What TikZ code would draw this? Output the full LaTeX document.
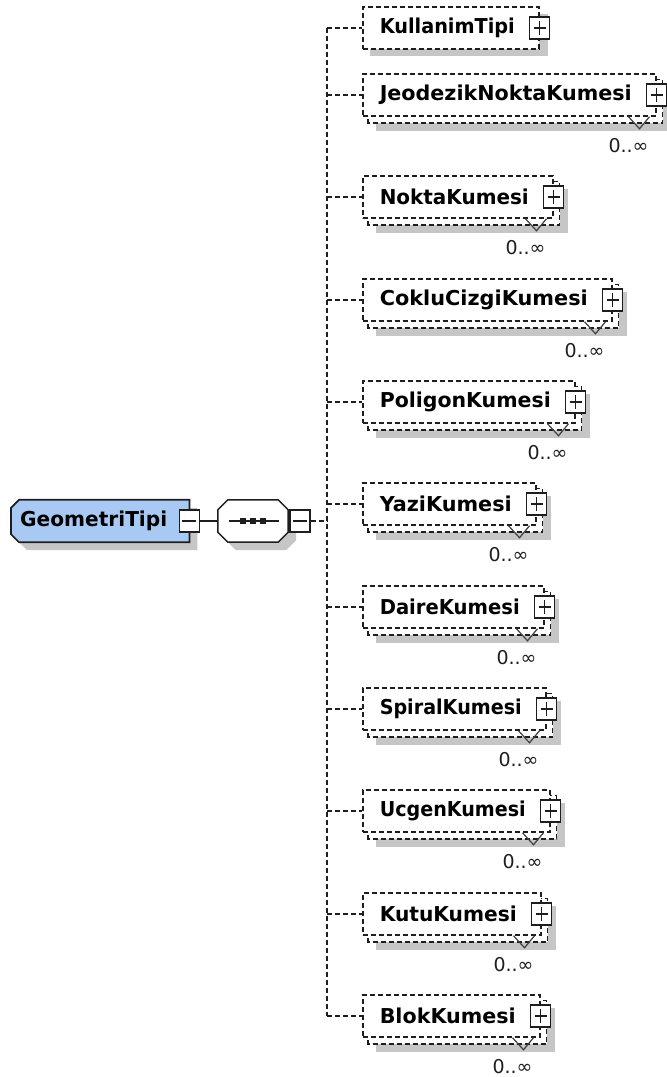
\documentclass[tikz,border=0pt]{standalone}
\usepackage{fontspec}
\usepackage{graphicx}
\setmainfont{DejaVu Sans}
\usetikzlibrary{calc,backgrounds}

\definecolor{typefill}{HTML}{A8C9F3}
\definecolor{shadowgray}{HTML}{C6C6C6}
\definecolor{inkline}{HTML}{1E1E1E}

\pgfdeclarelayer{canvas}
\pgfsetlayers{canvas,background,main}

% element label stretched to a given width (in pt)
\newcommand{\fitlabel}[2]{\resizebox{#1pt}{\height}{#2}\hspace*{7pt}}

\tikzset{
  dashedline/.style={draw=inkline, line width=1.5pt, dash pattern=on 5pt off 3pt},
  solidline/.style={draw=inkline, line width=1.5pt},
  elembox/.style={dashedline, fill=white, text=black,
    font=\bfseries\fontsize{20.5}{24}\selectfont,
    inner xsep=17pt, inner ysep=0pt, minimum height=42pt, anchor=west},
  typebox/.style={text=black, font=\bfseries\fontsize{20.5}{24}\selectfont,
    inner xsep=9pt, inner ysep=0pt, minimum height=42pt, anchor=west},
  pmbox/.style={draw=inkline, fill=white, line width=1.5pt,
    minimum width=20pt, minimum height=22pt, inner sep=0pt},
  plusbox/.style={pmbox, path picture={
    \draw[line width=1.5pt]
      ([xshift=-6pt]path picture bounding box.center) -- ([xshift=6pt]path picture bounding box.center)
      ([yshift=-7pt]path picture bounding box.center) -- ([yshift=7pt]path picture bounding box.center);}},
  minusbox/.style={pmbox, path picture={
    \draw[line width=1.5pt]
      ([xshift=-7pt]path picture bounding box.center) -- ([xshift=7pt]path picture bounding box.center);}},
  multmark/.style={draw=inkline!85, line width=1.2pt},
  multtext/.style={text=inkline, font=\fontsize{19}{21}\selectfont, inner sep=0pt},
}

\begin{document}
\begin{tikzpicture}[x=1pt,y=-1pt]
\begin{pgfonlayer}{canvas}
  \fill[white] (0,0) rectangle (667,1077);
\end{pgfonlayer}
\useasboundingbox (0,0) rectangle (667,1077);

% ---------- complex type GeometriTipi ----------
\node[typebox] (gt) at (11,521) {\resizebox{147pt}{\height}{GeometriTipi}\hspace*{13pt}};
\begin{scope}[on background layer]
  \fill[shadowgray] ($(gt.north west)+(16,8)$) -- ($(gt.north east)+(8,8)$)
    -- ($(gt.south east)+(8,8)$) -- ($(gt.south west)+(16,8)$)
    -- ($(gt.south west)+(8,0)$) -- ($(gt.north west)+(8,16)$) -- cycle;
  \path[fill=typefill, draw=inkline, line width=1.7pt]
    ($(gt.north west)+(8,0)$) -- (gt.north east) -- (gt.south east)
    -- ($(gt.south west)+(8,0)$) -- ($(gt.south west)+(0,-8)$)
    -- ($(gt.north west)+(0,8)$) -- cycle;
\end{scope}
\node[minusbox] (gtm) at (gt.east) {};

% ---------- sequence compositor ----------
\node[minimum width=70pt, minimum height=42pt, inner sep=0pt] (seq) at (253,521) {};
\begin{scope}[on background layer]
  \fill[shadowgray] ($(seq.north west)+(18,8)$) -- ($(seq.north east)+(-2,8)$)
    -- ($(seq.north east)+(8,18)$) -- ($(seq.south east)+(8,-2)$)
    -- ($(seq.south east)+(-2,8)$) -- ($(seq.south west)+(18,8)$)
    -- ($(seq.south west)+(8,-2)$) -- ($(seq.north west)+(8,18)$) -- cycle;
\end{scope}
\path[solidline, fill=white]
  ($(seq.north west)+(10,0)$) -- ($(seq.north east)+(-10,0)$)
  -- ($(seq.north east)+(0,10)$) -- ($(seq.south east)+(0,-10)$)
  -- ($(seq.south east)+(-10,0)$) -- ($(seq.south west)+(10,0)$)
  -- ($(seq.south west)+(0,-10)$) -- ($(seq.north west)+(0,10)$) -- cycle;
\draw[solidline] ($(seq.west)+(11,0)$) -- ($(seq.east)+(-9,0)$);
\foreach \dx in {-10,0,10}
  \fill[inkline] ($(seq.center)+(\dx-3,-3)$) rectangle ($(seq.center)+(\dx+3,3)$);
\node[minusbox, anchor=west] (seqm) at ($(seq.east)+(1,0)$) {};

\draw[solidline] (gtm.east) -- (seq.west);

% ---------- child elements ----------
\coordinate (spine) at (327,521);

\node[elembox] (e1) at (362,28) {\fitlabel{135}{KullanimTipi}};
\begin{scope}[on background layer]
  \fill[shadowgray] ($(e1.north west)+(8,8)$) rectangle ($(e1.south east)+(8,6)$);
\end{scope}
\node[plusbox] (p1) at (e1.east) {};

\foreach \i/\lbl/\yc/\tw in {
  2/JeodezikNoktaKumesi/95/252,
  3/NoktaKumesi/197/149,
  4/CokluCizgiKumesi/300/208,
  5/PoligonKumesi/402/171,
  6/YaziKumesi/504/132,
  7/DaireKumesi/607/140,
  8/SpiralKumesi/709/142,
  9/UcgenKumesi/811/146,
  10/KutuKumesi/914/137,
  11/BlokKumesi/1016/136}{
  \node[elembox] (e\i) at (362,\yc) {\fitlabel{\tw}{\lbl}};
  \begin{scope}[on background layer]
    \fill[shadowgray] ($(e\i.north west)+(14,14)$) rectangle ($(e\i.south east)+(14,14)$);
    \path[dashedline, fill=white] ($(e\i.north west)+(6,6)$) rectangle ($(e\i.south east)+(6,6)$);
  \end{scope}
  \node[plusbox] (p\i) at (e\i.east) {};
  \draw[multmark] ($(e\i.south east)+(-28,0)$) -- ($(e\i.south east)+(-17,12)$)
    -- ($(e\i.south east)+(-7,0)$);
  \node[multtext] (m\i) at ($(e\i.south east)+(-28,29)$) {0..∞};
}

% ---------- connectors ----------
\draw[dashedline] (seqm.east) -- (spine);
\draw[dashedline] (spine |- e1.west) -- (spine |- e11.west);
\foreach \i in {1,...,11}
  \draw[dashedline] (spine |- e\i.west) -- (e\i.west);

\end{tikzpicture}
\end{document}
